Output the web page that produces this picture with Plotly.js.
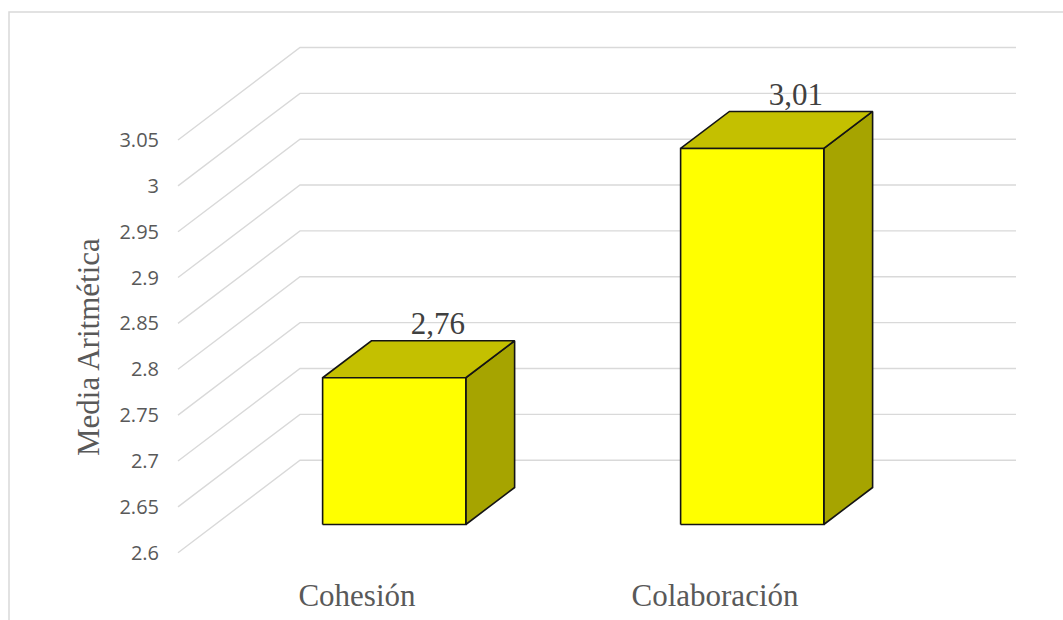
<!DOCTYPE html>
<html>
<head>
<meta charset="utf-8">
<script src="https://cdn.plot.ly/plotly-3.0.1.min.js"></script>
<style>
  html, body { margin: 0; padding: 0; background: #ffffff; }
  #chart { width: 1063px; height: 620px; }
</style>
</head>
<body>
<div id="chart"></div>
<script>
// ---- data ----
const categories = ['Cohesión', 'Colaboración'];
const values = [2.76, 3.01];
const valueLabels = ['2,76', '3,01'];
const yTickVals = [2.6, 2.65, 2.7, 2.75, 2.8, 2.85, 2.9, 2.95, 3, 3.05];
const yTickText = ['2.6', '2.65', '2.7', '2.75', '2.8', '2.85', '2.9', '2.95', '3', '3.05'];
const yTitle = 'Media Aritmética';

// ---- 3D projection styling (in axis units) ----
const baseVal = 2.6;
const depthX = 0.3408;   // back wall shift in x units (one category slot = 1)
const depthY = 0.10085;  // back wall shift in y value units
const barFront = 0.305;  // bar front depth fraction
const barBack = 0.705;   // bar back depth fraction
const barHalf = 0.2;     // half width of bar front face
const labelDx = 0.226;
const labelDy = 0.016;

const traces = [];

// gridlines: front-left diagonal + back wall horizontal
const gx = [], gy = [];
yTickVals.forEach(v => {
  gx.push(-0.5, -0.5 + depthX, 1.5 + depthX, null);
  gy.push(v, v + depthY, v + depthY, null);
});
traces.push({
  x: gx, y: gy, type: 'scatter', mode: 'lines',
  line: {color: '#d9d9d9', width: 1.4}, hoverinfo: 'skip', showlegend: false
});

const edge = {color: '#141414', width: 1.6};
categories.forEach((c, i) => {
  const v = values[i];
  const fx0 = i - barHalf + barFront * depthX;
  const fx1 = i + barHalf + barFront * depthX;
  const fyb = baseVal + barFront * depthY;
  const fyt = v + barFront * depthY;
  const bdx = (barBack - barFront) * depthX;
  const bdy = (barBack - barFront) * depthY;
  // side face
  traces.push({
    x: [fx1, fx1, fx1 + bdx, fx1 + bdx, fx1],
    y: [fyb, fyt, fyt + bdy, fyb + bdy, fyb],
    type: 'scatter', mode: 'lines', fill: 'toself', fillcolor: '#a6a400',
    line: edge, hoverinfo: 'skip', showlegend: false
  });
  // top face
  traces.push({
    x: [fx0, fx1, fx1 + bdx, fx0 + bdx, fx0],
    y: [fyt, fyt, fyt + bdy, fyt + bdy, fyt],
    type: 'scatter', mode: 'lines', fill: 'toself', fillcolor: '#c4c000',
    line: edge, hoverinfo: 'skip', showlegend: false
  });
  // front face
  traces.push({
    x: [fx0, fx1, fx1, fx0, fx0],
    y: [fyb, fyb, fyt, fyt, fyb],
    type: 'scatter', mode: 'lines', fill: 'toself', fillcolor: '#ffff00',
    line: edge, hoverinfo: 'skip', showlegend: false
  });
});

// value labels
traces.push({
  x: categories.map((c, i) => i + labelDx),
  y: values.map(v => v + barBack * depthY + labelDy),
  text: valueLabels,
  type: 'scatter', mode: 'text', textposition: 'middle center',
  textfont: {family: 'Liberation Serif', size: 31, color: '#404040'},
  hoverinfo: 'skip', showlegend: false
});

const L = 160, R = 1030, T = 20, B = 560;
const layout = {
  width: 1063, height: 620,
  margin: {l: L, r: 1063 - R, t: T, b: 620 - B, pad: 0},
  paper_bgcolor: '#ffffff', plot_bgcolor: 'rgba(0,0,0,0)',
  showlegend: false, hovermode: false,
  xaxis: {
    range: [-0.5503, 1.8799], fixedrange: true,
    tickvals: categories.map((c, i) => i), ticktext: categories,
    showgrid: false, zeroline: false, showline: false,
    ticks: 'outside', ticklen: 8, tickcolor: 'rgba(0,0,0,0)',
    tickfont: {family: 'Liberation Serif', size: 31, color: '#595959'}
  },
  yaxis: {
    range: [2.59204, 3.1808], fixedrange: true,
    tickvals: yTickVals, ticktext: yTickText,
    showgrid: false, zeroline: false, showline: false,
    ticks: '', ticklen: 0,
    tickfont: {family: 'Open Sans', size: 20, color: '#595959'}
  },
  annotations: [{
    text: yTitle, xref: 'paper', yref: 'paper',
    x: (88 - L) / (R - L), y: (B - 347) / (B - T),
    xanchor: 'center', yanchor: 'middle', textangle: -90, showarrow: false,
    font: {family: 'Liberation Serif', size: 31, color: '#595959'}
  }],
  shapes: [{
    type: 'rect', xref: 'paper', yref: 'paper',
    x0: (9 - L) / (R - L), x1: (1075 - L) / (R - L),
    y0: (B - 635) / (B - T), y1: (B - 12) / (B - T),
    line: {color: '#d9d9d9', width: 1.5}, fillcolor: 'rgba(0,0,0,0)', layer: 'below'
  }]
};

Plotly.newPlot('chart', traces, layout, {displayModeBar: false, staticPlot: true});
</script>
</body>
</html>
